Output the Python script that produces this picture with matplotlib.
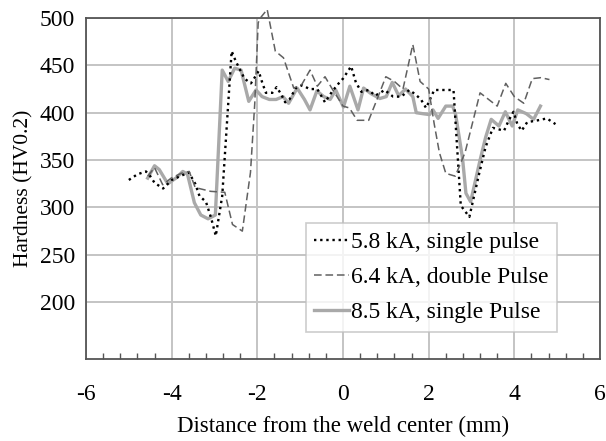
import matplotlib
matplotlib.use("Agg")
import matplotlib.pyplot as plt
from matplotlib.ticker import MultipleLocator

# 5.8 kA, single pulse
x58 = [-5.0, -4.8, -4.6, -4.5, -4.4, -4.2, -4.0, -3.8, -3.6, -3.45, -3.35, -3.2, -3.08, -2.97,
       -2.82, -2.6, -2.5, -2.3, -2.15, -2.05, -1.97, -1.88, -1.8, -1.65, -1.55, -1.45, -1.35,
       -1.25, -1.1, -0.95, -0.78, -0.6, -0.42, -0.26, -0.1, 0.0, 0.19, 0.3, 0.43, 0.6, 0.75,
       0.87, 0.97, 1.17, 1.36, 1.55, 1.7, 1.82, 1.94, 2.13, 2.58, 2.75, 2.95, 3.18, 3.33, 3.5,
       3.76, 3.87, 3.98, 4.07, 4.17, 4.3, 4.55, 4.76, 4.96]
y58 = [329, 335, 338, 333, 326, 320, 329, 333, 337, 325, 312, 306, 289, 270,
       312, 465, 454, 436, 431, 438, 444, 431, 421, 421, 427, 420, 411,
       414, 426, 429, 425, 425, 411, 422, 431, 436, 449, 432, 422, 424, 418,
       421, 424, 417, 417, 424, 419, 414, 405, 424, 424, 302, 290, 336, 364, 384,
       381, 392, 401, 388, 381, 390, 392, 394, 388]

# 6.4 kA, double Pulse
x64 = [-4.56, -4.4, -4.21, -4.01, -3.78, -3.59, -3.45, -3.09, -2.76, -2.58, -2.35, -2.16, -2.06,
       -1.98, -1.93, -1.77, -1.58, -1.39, -1.15, -0.96, -0.77, -0.6, -0.42, -0.25, 0.0, 0.15,
       0.33, 0.6, 0.82, 1.0, 1.2, 1.4, 1.63, 1.8, 2.0, 2.13, 2.25, 2.4, 2.62, 2.85, 3.2, 3.6,
       3.8, 4.0, 4.22, 4.42, 4.62, 4.82]
y64 = [333, 342, 324, 331, 336, 338, 321, 317, 316, 282, 275, 337, 410,
       495, 500, 509, 465, 458, 426, 430, 445, 428, 438, 425, 407, 405,
       392, 392, 417, 438, 433, 425, 472, 433, 425, 388, 358, 336, 333, 358, 421, 407,
       431, 417, 410, 436, 437, 435]

# 8.5 kA, single Pulse
x85 = [-4.56, -4.4, -4.29, -4.09, -3.9, -3.74, -3.63, -3.47, -3.32, -3.15, -2.98, -2.82, -2.68,
       -2.53, -2.38, -2.2, -2.03, -1.89, -1.72, -1.56, -1.4, -1.27, -1.07, -0.9, -0.77, -0.61,
       -0.45, -0.3, -0.17, 0.01, 0.16, 0.35, 0.48, 0.66, 0.86, 1.01, 1.15, 1.3, 1.46, 1.63,
       1.71, 1.86, 2.02, 2.1, 2.22, 2.4, 2.56, 2.63, 2.79, 2.87, 2.98, 3.2, 3.33, 3.46, 3.64,
       3.79, 3.95, 4.08, 4.28, 4.45, 4.61]
y85 = [331, 344, 340, 325, 331, 338, 335, 305, 292, 288, 292, 445, 433,
       447, 445, 412, 424, 417, 414, 414, 417, 410, 426, 414, 403, 423,
       417, 414, 424, 406, 428, 403, 426, 420, 415, 417, 432, 418, 425, 417,
       400, 399, 398, 403, 394, 407, 407, 398, 352, 315, 306, 350, 374, 393, 386,
       401, 386, 403, 399, 393, 407]

labels = ["5.8 kA, single pulse", "6.4 kA, double Pulse", "8.5 kA, single Pulse"]
xticks = [-6, -4, -2, 0, 2, 4, 6]
yticks = [200, 250, 300, 350, 400, 450, 500]

plt.rcParams['font.family'] = ['Liberation Serif', 'DejaVu Serif']

fig = plt.figure(figsize=(6.06, 4.41), dpi=100)
ax = fig.add_axes([86/606, 1-359/441, 514/606, 341/441])

ax.plot(x58, y58, color='black', linestyle=(0, (1, 1.6)), lw=1.7, label=labels[0], zorder=3)
ax.plot(x64, y64, color='#606060', linestyle=(0, (5, 2.5)), lw=1.1, label=labels[1],
        zorder=3, clip_on=False)
ax.plot(x85, y85, color='#a9a9a9', linestyle='-', lw=2.4, label=labels[2], zorder=2)

ax.set_xlim(-6, 6)
ax.set_ylim(140, 500)
ax.set_xticks(xticks)
ax.set_xticklabels([str(t) for t in xticks])
ax.set_yticks(yticks)
ax.set_yticklabels([str(t) for t in yticks])
ax.xaxis.set_minor_locator(MultipleLocator(0.4))
ax.tick_params(axis='x', which='major', direction='in', length=0, pad=18, labelsize=17)
ax.tick_params(axis='x', which='minor', direction='in', length=4, width=1, color='#555555')
ax.tick_params(axis='y', which='major', length=0, pad=8, labelsize=17)

ax.grid(True, which='major', color='#c4c4c4', lw=1.4)
ax.set_axisbelow(True)
for s in ax.spines.values():
    s.set_color('#555555')
    s.set_linewidth(1.3)

ax.set_xlabel("Distance from the weld center (mm)", fontsize=16.5, labelpad=8)
ax.set_ylabel("Hardness (HV0.2)", fontsize=15.5, labelpad=4)

leg = ax.legend(loc='upper left', bbox_to_anchor=(0.428, 0.399), borderaxespad=0,
                fontsize=17, handlelength=1.45, handletextpad=0.1, labelspacing=0.58,
                frameon=True, fancybox=False, borderpad=0.36)
leg.get_frame().set_edgecolor('#c0c0c0')
leg.get_frame().set_linewidth(1.2)

fig.savefig("out.png", dpi=100)
